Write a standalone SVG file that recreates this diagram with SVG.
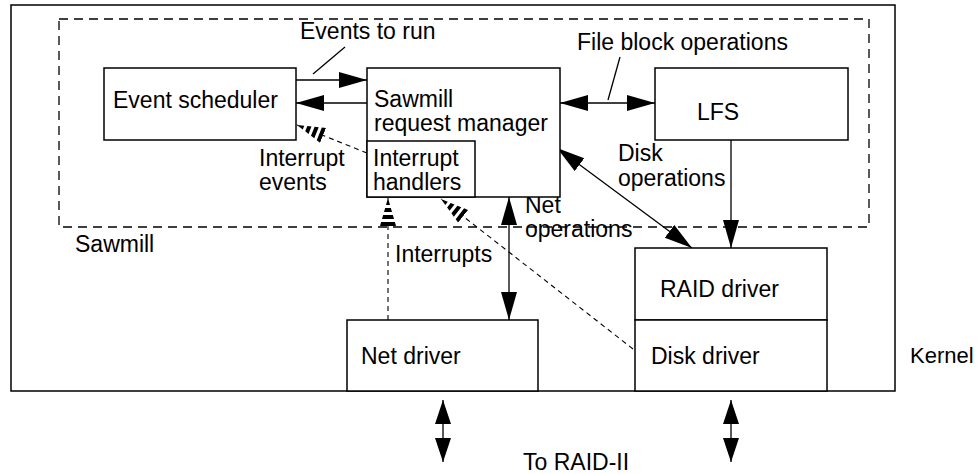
<svg xmlns="http://www.w3.org/2000/svg" width="977" height="474" viewBox="0 0 977 474">
<style>
text{font-family:"Liberation Sans",Arial,sans-serif;font-size:23px;fill:#000}
.box{fill:#fff;stroke:#000;stroke-width:1.5}
.dbox{fill:none;stroke:#000;stroke-width:1.3;stroke-dasharray:9,6}
.ln{fill:none;stroke:#000;stroke-width:1.3}
.dl{fill:none;stroke:#000;stroke-width:1.1;stroke-dasharray:5,4}
</style>
<defs>
<marker id="ah" markerUnits="userSpaceOnUse" markerWidth="30" markerHeight="18" viewBox="0 -9 30 18" refX="28" refY="0" orient="auto-start-reverse">
<path d="M0,-8 L28,0 L0,8 z" fill="#000"/>
</marker>
<marker id="ahs" markerUnits="userSpaceOnUse" markerWidth="26" markerHeight="18" viewBox="0 -9 26 18" refX="24" refY="0" orient="auto-start-reverse">
<path d="M0,-8 L24,0 L0,8 z" fill="#000"/>
</marker>
<marker id="hs" markerUnits="userSpaceOnUse" markerWidth="30" markerHeight="18" viewBox="0 -9 30 18" refX="28" refY="0" orient="auto">
<path d="M0,-8 L28,0 L0,8 z" fill="#fff"/>
<path d="M0,-8 L4,-6.86 L4,6.86 L0,8 z M7,-6 L11,-4.86 L11,4.86 L7,6 z M14,-4 L18,-2.86 L18,2.86 L14,4 z M21,-2 L28,0 L21,2 z" fill="#000"/>
</marker>
</defs>
<g id="kernel">
<rect class="box" x="11" y="5" width="884" height="386"/>
<text x="910" y="363" style="font-size:22px">Kernel</text>
</g>
<g id="sawmill">
<rect class="dbox" x="59" y="19" width="810" height="208"/>
<text x="75" y="252">Sawmill</text>
</g>
<g id="connectors">
<line class="ln" x1="296" y1="80" x2="367" y2="80" marker-end="url(#ah)"/>
<line class="ln" x1="367" y1="103" x2="296" y2="103" marker-end="url(#ah)"/>
<line class="ln" x1="313" y1="74" x2="345" y2="47"/>
<line class="ln" x1="560" y1="103" x2="655" y2="103" marker-start="url(#ah)" marker-end="url(#ah)"/>
<line class="ln" x1="608" y1="100" x2="620" y2="57"/>
<line class="ln" x1="557" y1="148" x2="692" y2="248" marker-start="url(#ah)" marker-end="url(#ah)"/>
<line class="ln" x1="731" y1="140" x2="731" y2="248" marker-end="url(#ah)"/>
<line class="ln" x1="509" y1="197" x2="509" y2="320" marker-start="url(#ah)" marker-end="url(#ah)"/>
<line class="dl" x1="388" y1="320" x2="388" y2="198" marker-end="url(#hs)"/>
<line class="dl" x1="633" y1="349" x2="441" y2="199" marker-end="url(#hs)"/>
<line class="dl" x1="367" y1="153" x2="297" y2="125" marker-end="url(#hs)"/>
<line class="ln" x1="443" y1="400" x2="443" y2="462" marker-start="url(#ahs)" marker-end="url(#ahs)"/>
<line class="ln" x1="731" y1="400" x2="731" y2="462" marker-start="url(#ahs)" marker-end="url(#ahs)"/>
</g>
<g id="labels">
<text x="300" y="39">Events to run</text>
<text x="577" y="50">File block operations</text>
<text x="618" y="161">Disk</text>
<text x="618" y="186">operations</text>
<text x="525" y="213">Net</text>
<text x="525" y="237">operations</text>
<text x="395" y="262">Interrupts</text>
<text x="259" y="166">Interrupt</text>
<text x="259" y="190">events</text>
<text x="523" y="470">To RAID-II</text>
</g>
<g id="event-scheduler">
<rect class="box" x="104" y="68" width="192" height="72"/>
<text x="113" y="108">Event scheduler</text>
</g>
<g id="request-manager">
<rect class="box" x="367" y="68" width="193" height="129"/>
<text x="374" y="107">Sawmill</text>
<text x="374" y="131">request manager</text>
</g>
<g id="interrupt-handlers">
<rect class="box" x="367" y="141" width="108" height="56"/>
<text x="373" y="166">Interrupt</text>
<text x="373" y="190">handlers</text>
</g>
<g id="lfs">
<rect class="box" x="655" y="68" width="193" height="72"/>
<text x="697" y="120">LFS</text>
</g>
<g id="raid-driver">
<rect class="box" x="635" y="248" width="192" height="72"/>
<text x="660" y="297">RAID driver</text>
</g>
<g id="disk-driver">
<rect class="box" x="635" y="320" width="192" height="71"/>
<text x="651" y="364">Disk driver</text>
</g>
<g id="net-driver">
<rect class="box" x="347" y="320" width="191" height="71"/>
<text x="361" y="364">Net driver</text>
</g>
</svg>
